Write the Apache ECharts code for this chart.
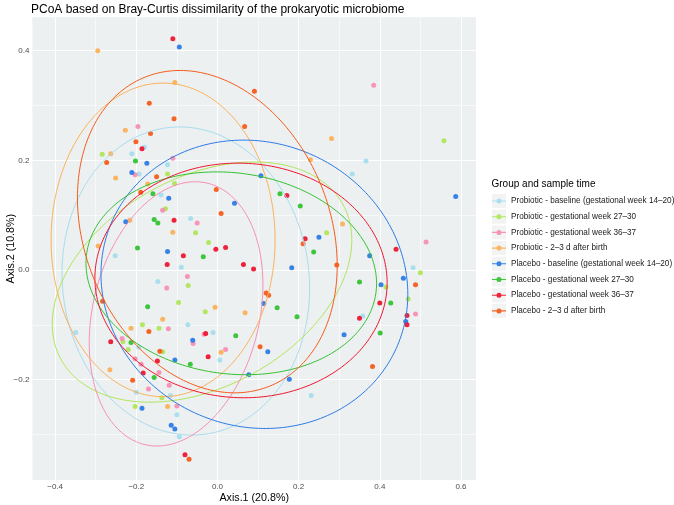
<!DOCTYPE html>
<html><head><meta charset="utf-8">
<script src="https://cdn.jsdelivr.net/npm/echarts@6/dist/echarts.min.js"></script>
<style>html,body{margin:0;padding:0;background:#fff}#c{width:674px;height:505px}</style>
</head><body><div id="c"></div>
<script>
// ---- DATA ----
const groups = [
  'Probiotic - baseline (gestational week 14\u201320)',
  'Probiotic - gestational week 27\u201330',
  'Probiotic - gestational week 36\u201337',
  'Probiotic - 2\u20133 d after birth',
  'Placebo - baseline (gestational week 14\u201320)',
  'Placebo - gestational week 27\u201330',
  'Placebo - gestational week 36\u201337',
  'Placebo - 2\u20133 d after birth'
];
const colors = ['#A6DDEE','#B0E65A','#F78FB3','#FBB15A','#2C7BE5','#33C233','#EE1730','#F55C1B'];

const probioticBaseline = [[-0.180,0.224],[-0.211,0.212],[-0.123,0.192],[-0.193,0.175],[0.366,0.199],[0.332,0.175],[-0.139,0.137],[-0.066,0.094],[-0.252,0.026],[-0.089,0.005],[-0.147,-0.021],[0.358,-0.084],[-0.349,-0.114],[-0.073,-0.100],[-0.011,-0.114],[-0.194,-0.141],[0.006,-0.164],[-0.200,-0.223],[-0.116,-0.229],[-0.100,-0.264],[-0.094,-0.304],[0.231,-0.229],[0.482,0.004]];
const probiotic2730 = [[-0.284,0.211],[-0.123,0.175],[-0.106,0.158],[-0.128,0.112],[-0.054,0.068],[-0.022,0.050],[-0.072,-0.028],[-0.096,-0.059],[-0.030,-0.076],[0.269,0.068],[0.415,-0.031],[0.470,-0.053],[-0.185,-0.100],[-0.144,-0.106],[-0.233,-0.131],[-0.220,-0.145],[-0.135,-0.149],[-0.137,-0.233],[-0.203,-0.249],[0.558,0.236],[0.500,-0.005]];
const probiotic3637 = [[-0.196,0.262],[-0.110,0.204],[-0.203,0.174],[0.385,0.337],[-0.135,0.109],[-0.050,0.086],[-0.074,-0.012],[-0.125,-0.033],[-0.121,-0.107],[-0.033,-0.117],[-0.060,-0.134],[-0.235,-0.125],[0.020,-0.145],[-0.203,-0.162],[-0.188,-0.172],[-0.144,-0.187],[-0.119,-0.210],[-0.170,-0.217],[-0.100,-0.248],[0.514,0.051],[0.488,-0.080]];
const probioticBirth = [[-0.295,0.400],[-0.105,0.342],[-0.227,0.255],[-0.263,0.212],[-0.251,0.168],[0.281,0.240],[0.229,0.201],[-0.172,0.157],[-0.216,0.091],[-0.110,0.069],[-0.294,0.044],[-0.006,-0.068],[-0.135,-0.090],[0.308,0.084],[0.068,-0.078],[-0.213,-0.106],[0.009,-0.150],[-0.265,-0.182],[-0.123,-0.249]];
const placeboBaseline = [[-0.094,0.407],[-0.174,0.195],[-0.211,0.178],[0.107,0.172],[-0.120,0.131],[0.042,0.122],[-0.226,0.088],[-0.123,0.034],[0.250,0.060],[0.375,0.026],[0.183,0.004],[0.458,-0.015],[0.403,-0.027],[0.114,-0.061],[-0.061,-0.128],[-0.105,-0.164],[-0.186,-0.252],[-0.114,-0.283],[-0.105,-0.290],[0.464,-0.094],[0.312,-0.118],[0.124,-0.149],[0.077,-0.191],[0.177,-0.199],[0.587,0.134]];
const placebo2730 = [[-0.202,0.199],[-0.159,0.139],[-0.156,0.092],[-0.147,0.086],[-0.197,0.040],[-0.035,0.024],[-0.172,-0.067],[0.154,0.139],[0.204,0.117],[0.237,0.033],[0.350,-0.022],[0.427,-0.060],[0.147,-0.069],[0.196,-0.085],[0.045,-0.120],[-0.213,-0.132],[-0.067,-0.172],[-0.156,-0.196],[0.401,-0.115]];
const placebo3637 = [[-0.110,0.422],[-0.186,0.221],[-0.107,0.091],[-0.004,0.038],[0.020,0.041],[-0.084,0.026],[-0.124,0.010],[0.171,0.136],[0.216,0.057],[0.440,0.038],[0.064,0.010],[0.089,0.002],[0.400,-0.060],[0.350,-0.088],[0.467,-0.083],[0.467,-0.100],[-0.029,-0.116],[-0.263,-0.131],[-0.023,-0.158],[-0.148,-0.166],[-0.183,-0.188],[-0.080,-0.337]];
const placeboBirth = [[-0.168,0.304],[-0.107,0.276],[-0.165,0.249],[-0.201,0.234],[-0.273,0.196],[-0.150,0.170],[0.091,0.326],[0.067,0.262],[-0.189,0.142],[-0.003,0.147],[0.009,0.103],[-0.283,-0.057],[0.211,0.048],[0.294,0.009],[0.120,-0.042],[0.126,-0.046],[-0.169,-0.112],[-0.142,-0.148],[-0.209,-0.201],[-0.070,-0.345],[0.105,-0.140],[0.382,-0.176],[0.488,-0.027]];
const groupPoints = [probioticBaseline, probiotic2730, probiotic3637, probioticBirth, placeboBaseline, placebo2730, placebo3637, placeboBirth];

// ellipse parameters (centre, half-extent along x / y, correlation)
const ellipseCx  = [-0.078,-0.038,-0.102,-0.134, 0.091, 0.034, 0.058,-0.025];
const ellipseCy  = [-0.020,-0.022,-0.080, 0.055,-0.026,-0.006,-0.019, 0.070];
const ellipseSx  = [ 0.305, 0.369, 0.214, 0.276, 0.378, 0.358, 0.360, 0.320];
const ellipseSy  = [ 0.281, 0.219, 0.241, 0.286, 0.263, 0.185, 0.214, 0.294];
const ellipseRho = [-0.05, 0.35, 0.22, 0.00,-0.07,-0.10,-0.02,-0.21];

const xTicks = [-0.4,-0.2,0,0.2,0.4,0.6];
const yTicks = [-0.2,0,0.2,0.4];
const xMinor = [-0.3,-0.1,0.1,0.3,0.5];
const yMinor = [-0.3,-0.1,0.1,0.3];

// ---- BUILD ----
const FONT = 'Liberation Sans, Arial, Helvetica, sans-serif';
function ellipsePath(i){
  const pts=[]; const n=240;
  const r=ellipseRho[i], k=Math.sqrt(1-r*r);
  for(let j=0;j<=n;j++){
    const t=2*Math.PI*j/n;
    pts.push([ellipseCx[i]+ellipseSx[i]*Math.cos(t), ellipseCy[i]+ellipseSy[i]*(r*Math.cos(t)+k*Math.sin(t))]);
  }
  return pts;
}
const fmt = v => (v<0?'\u2212':'')+Math.abs(v).toFixed(1);

const series = [];
const gl = [];
xTicks.forEach(v=>gl.push({xAxis:v, lineStyle:{color:'#fff',width:1.1}}));
yTicks.forEach(v=>gl.push({yAxis:v, lineStyle:{color:'#fff',width:1.1}}));
xMinor.forEach(v=>gl.push({xAxis:v, lineStyle:{color:'#fff',width:0.55}}));
yMinor.forEach(v=>gl.push({yAxis:v, lineStyle:{color:'#fff',width:0.55}}));
series.push({type:'line', name:'_grid', data:[], z:1, silent:true,
  markLine:{z:1, silent:true, symbol:['none','none'], label:{show:false}, animation:false, data:gl, lineStyle:{type:'solid'}}});

// legend key: horizontal line + dot, padded to a 14px-high box by an invisible sliver
const keyIcon = 'path://M0,6.45H14V7.55H0Z M9.5,7A2.5,2.5,0,1,1,4.5,7A2.5,2.5,0,1,1,9.5,7Z M13.999,0H14V14H13.999Z';
groups.forEach((g,i)=>{
  series.push({type:'scatter', name:g, data:groupPoints[i], symbol:'circle', symbolSize:5, z:3,
    itemStyle:{color:colors[i], opacity:0.95}});
});
groups.forEach((g,i)=>{
  series.push({type:'line', name:g, data:ellipsePath(i), showSymbol:false, symbol:'none',
    smooth:false, z:4, silent:true, lineStyle:{color:colors[i], width:1}, itemStyle:{color:colors[i]}});
});

const legTop = 194, legItemH = 14, legGap = 1.7, legLeft = 492;
const keyRects = groups.map((g,i)=>({type:'rect', left:legLeft, top:legTop+i*(legItemH+legGap), z:-1,
  shape:{width:14,height:14}, style:{fill:'#F2F3F3'}}));

const chart = echarts.init(document.getElementById('c'), null, {renderer:'canvas'});
chart.setOption({
  animation:false,
  backgroundColor:'#fff',
  textStyle:{fontFamily:FONT},
  title:[
    {text:'PCoA based on Bray-Curtis dissimilarity of the prokaryotic microbiome', left:31, top:4, padding:0,
     textStyle:{fontSize:12, fontWeight:'normal', color:'#000', fontFamily:FONT}},
    {text:'Group and sample time', left:491.5, top:179.5, padding:0, textStyle:{fontSize:10, fontWeight:'normal', color:'#000', fontFamily:FONT}}
  ],
  grid:{left:32.4, right:198, top:17.3, bottom:25, show:true, backgroundColor:'#EDF0F0', borderWidth:0,
    containLabel:false, outerBoundsMode:'none'},
  xAxis:{type:'value', min:-0.456, max:0.637, name:'Axis.1 (20.8%)', nameLocation:'middle', nameGap:13,
    nameMoveOverlap:false,
    nameTextStyle:{fontSize:10.7, color:'#000', fontFamily:FONT},
    axisLine:{show:false}, splitLine:{show:false},
    axisTick:{show:true, customValues:xTicks, length:3, lineStyle:{color:'#333', width:1}},
    axisLabel:{customValues:xTicks, formatter:fmt, fontSize:8, color:'#4D4D4D', margin:3, fontFamily:FONT}},
  yAxis:{type:'value', min:-0.383, max:0.461, name:'Axis.2 (10.8%)', nameLocation:'middle', nameGap:16,
    nameMoveOverlap:false,
    nameTextStyle:{fontSize:10.7, color:'#000', fontFamily:FONT},
    axisLine:{show:false}, splitLine:{show:false},
    axisTick:{show:true, customValues:yTicks, length:3, lineStyle:{color:'#333', width:1}},
    axisLabel:{customValues:yTicks, formatter:fmt, fontSize:8, color:'#4D4D4D', margin:3, fontFamily:FONT}},
  legend:{orient:'vertical', left:legLeft, top:legTop, padding:0, itemWidth:14, itemHeight:legItemH, itemGap:legGap,
    icon:keyIcon, data:groups, selectedMode:false,
    textStyle:{fontSize:8.2, color:'#1A1A1A', fontFamily:FONT}},
  graphic: keyRects,
  series: series
});
</script></body></html>
